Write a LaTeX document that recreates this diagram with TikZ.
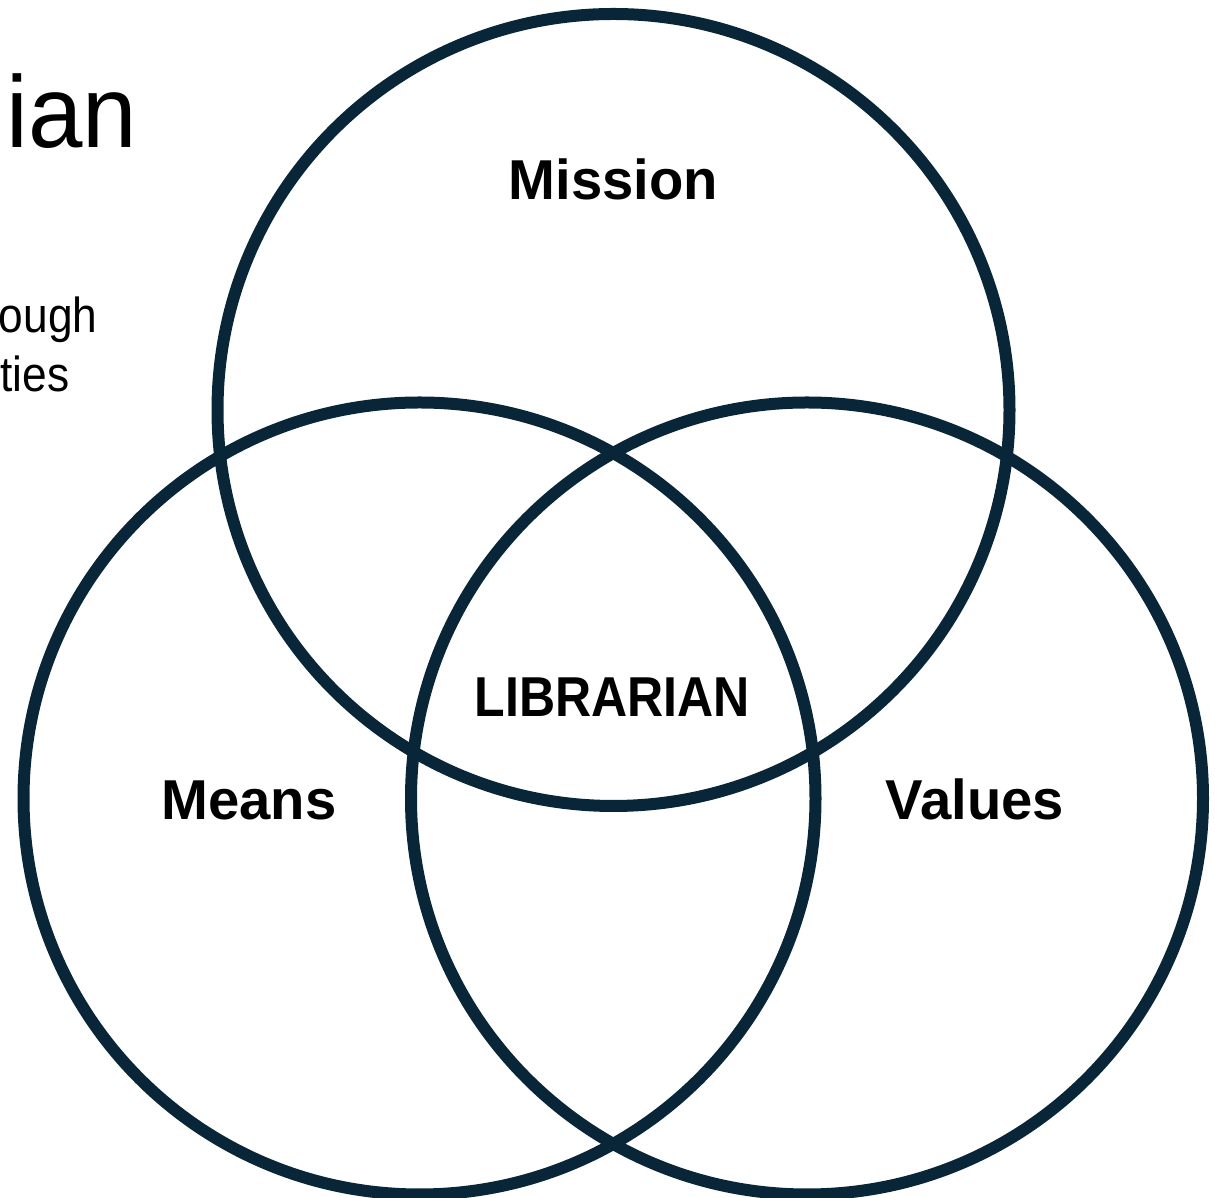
\documentclass[tikz,border=0pt]{standalone}
\usepackage{fontspec}
\setmainfont{Liberation Sans}
\usepackage{xcolor}
\usepackage{tikz}
\usetikzlibrary{shapes,positioning}
\definecolor{ringnavy}{RGB}{9,38,56}
\tikzset{ring/.style={circle,draw=ringnavy,line width=0.12cm,minimum size=7.92cm,inner sep=0pt}}
\tikzset{lbl/.style={font=\fontsize{16}{19}\selectfont\bfseries,inner sep=0pt,anchor=base}}
\tikzset{behind/.style={inner sep=0pt,anchor=base east}}

\begin{document}
\begin{tikzpicture}
    \useasboundingbox (0,0) rectangle (12.15,11.98);

    \node[behind,anchor=base west,font=\fontsize{29}{34}\selectfont] (title) at (0.06,10.50) {\scalebox{0.96}[1]{ian}};
    \node[behind,font=\fontsize{14}{17}\selectfont] (lineone) at (0.98,8.65) {\scalebox{0.9}[1]{ough}};
    \node[behind,font=\fontsize{14}{17}\selectfont] (linetwo) at (0.70,8.06) {\scalebox{0.9}[1]{ties}};

    \node[ring] (mission) at (6.135,7.88) {};
    \node[ring] (means) at (4.195,3.995) {};
    \node[ring] (values) at (8.07,3.995) {};

    \node[lbl] (missionlbl) at (6.135,9.98) {Mission};
    \node[lbl] (meanslbl) at (2.49,3.78) {Means};
    \node[lbl] (valueslbl) at (9.75,3.78) {Values};
    \node[lbl] (librarian) at (6.125,4.81) {\scalebox{0.89}[1]{LIBRARIAN}};
\end{tikzpicture}
\end{document}
